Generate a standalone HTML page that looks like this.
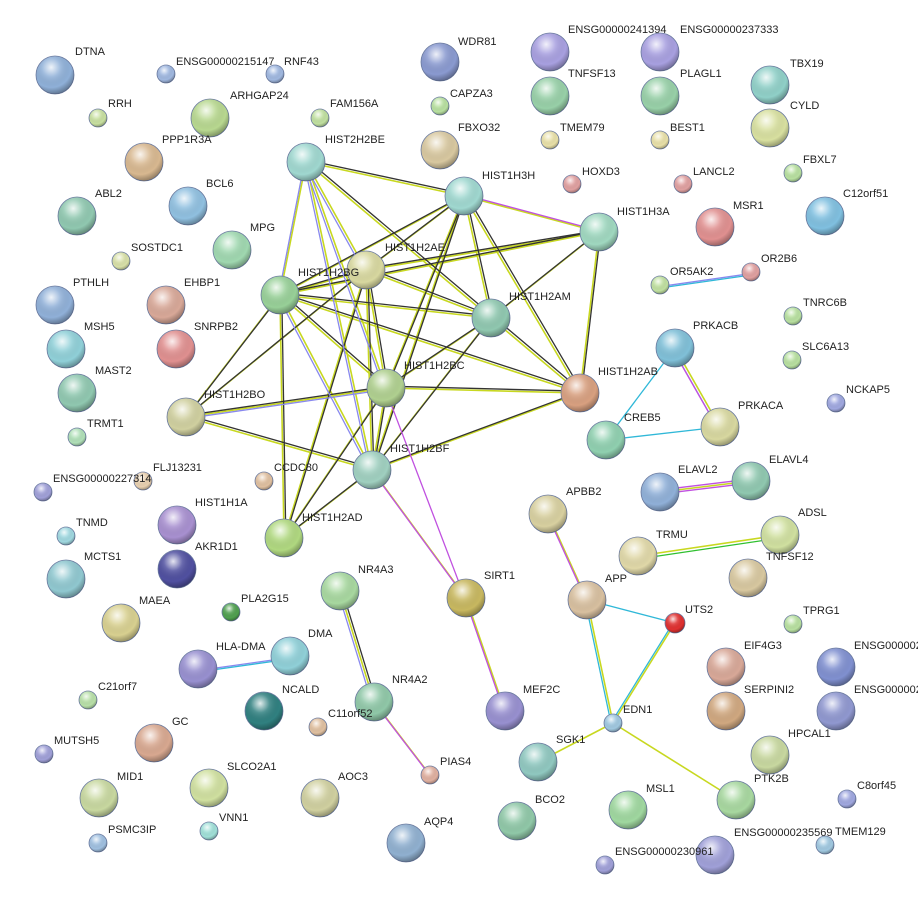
<!DOCTYPE html>
<html><head><meta charset="utf-8"><style>
html,body{margin:0;padding:0;background:#fff}
svg text{font-family:"Liberation Sans",sans-serif;font-size:11px;fill:#222}
</style></head><body>
<svg width="918" height="911" viewBox="0 0 918 911" xmlns="http://www.w3.org/2000/svg">
<defs>
<radialGradient id="g" cx="40%" cy="30%" r="70%">
<stop offset="0%" stop-color="#fff" stop-opacity="0.85"/>
<stop offset="35%" stop-color="#fff" stop-opacity="0.15"/>
<stop offset="75%" stop-color="#000" stop-opacity="0"/>
<stop offset="100%" stop-color="#000" stop-opacity="0.3"/>
</radialGradient>
</defs>
<!-- edges: yellow-green -->
<g stroke="#c8d820" stroke-width="1.6" fill="none">
<line x1="306" y1="162" x2="464" y2="196"/><line x1="306" y1="162" x2="366" y2="270"/><line x1="306" y1="162" x2="280" y2="295"/><line x1="306" y1="162" x2="491" y2="318"/><line x1="306" y1="162" x2="386" y2="388"/><line x1="306" y1="162" x2="372" y2="470"/>
<line x1="464" y1="196" x2="599" y2="232"/><line x1="464" y1="196" x2="366" y2="270"/><line x1="464" y1="196" x2="280" y2="295"/><line x1="464" y1="196" x2="491" y2="318"/><line x1="464" y1="196" x2="386" y2="388"/><line x1="464" y1="196" x2="580" y2="393"/><line x1="464" y1="196" x2="372" y2="470"/>
<line x1="599" y1="232" x2="366" y2="270"/><line x1="599" y1="232" x2="280" y2="295"/><line x1="599" y1="232" x2="491" y2="318"/><line x1="599" y1="232" x2="580" y2="393"/>
<line x1="366" y1="270" x2="280" y2="295"/><line x1="366" y1="270" x2="491" y2="318"/><line x1="366" y1="270" x2="386" y2="388"/><line x1="366" y1="270" x2="372" y2="470"/><line x1="366" y1="270" x2="186" y2="417"/><line x1="366" y1="270" x2="284" y2="538"/>
<line x1="280" y1="295" x2="491" y2="318"/><line x1="280" y1="295" x2="386" y2="388"/><line x1="280" y1="295" x2="372" y2="470"/><line x1="280" y1="295" x2="186" y2="417"/><line x1="280" y1="295" x2="284" y2="538"/><line x1="280" y1="295" x2="580" y2="393"/>
<line x1="491" y1="318" x2="386" y2="388"/><line x1="491" y1="318" x2="372" y2="470"/><line x1="491" y1="318" x2="580" y2="393"/>
<line x1="386" y1="388" x2="580" y2="393"/><line x1="386" y1="388" x2="186" y2="417"/><line x1="386" y1="388" x2="372" y2="470"/><line x1="386" y1="388" x2="284" y2="538"/>
<line x1="372" y1="470" x2="186" y2="417"/><line x1="372" y1="470" x2="580" y2="393"/><line x1="372" y1="470" x2="284" y2="538"/><line x1="372" y1="470" x2="466" y2="598"/>
<line x1="466" y1="598" x2="505" y2="711"/><line x1="340" y1="591" x2="374" y2="702"/><line x1="374" y1="702" x2="430" y2="775"/>
<line x1="548" y1="514" x2="587" y2="600"/><line x1="587" y1="600" x2="613" y2="723"/><line x1="675" y1="623" x2="613" y2="723"/>
<line x1="613" y1="723" x2="538" y2="762"/><line x1="613" y1="723" x2="736" y2="800"/>
<line x1="638" y1="556" x2="780" y2="535"/><line x1="660" y1="492" x2="751" y2="481"/><line x1="675" y1="348" x2="720" y2="427"/>
</g>
<!-- black / colored partner lines -->
<g stroke="#333" stroke-width="1.3" fill="none" transform="translate(1.8,-1.8)">
<line x1="306" y1="162" x2="464" y2="196"/><line x1="306" y1="162" x2="491" y2="318"/>
<line x1="464" y1="196" x2="366" y2="270"/><line x1="464" y1="196" x2="280" y2="295"/><line x1="464" y1="196" x2="491" y2="318"/><line x1="464" y1="196" x2="386" y2="388"/><line x1="464" y1="196" x2="580" y2="393"/><line x1="464" y1="196" x2="372" y2="470"/>
<line x1="599" y1="232" x2="366" y2="270"/><line x1="599" y1="232" x2="280" y2="295"/><line x1="599" y1="232" x2="491" y2="318"/><line x1="599" y1="232" x2="580" y2="393"/>
<line x1="366" y1="270" x2="280" y2="295"/><line x1="366" y1="270" x2="491" y2="318"/><line x1="366" y1="270" x2="386" y2="388"/><line x1="366" y1="270" x2="372" y2="470"/><line x1="366" y1="270" x2="186" y2="417"/><line x1="366" y1="270" x2="284" y2="538"/>
<line x1="280" y1="295" x2="491" y2="318"/><line x1="280" y1="295" x2="386" y2="388"/><line x1="280" y1="295" x2="186" y2="417"/><line x1="280" y1="295" x2="284" y2="538"/><line x1="280" y1="295" x2="580" y2="393"/>
<line x1="491" y1="318" x2="386" y2="388"/><line x1="491" y1="318" x2="372" y2="470"/><line x1="491" y1="318" x2="580" y2="393"/>
<line x1="386" y1="388" x2="580" y2="393"/><line x1="386" y1="388" x2="186" y2="417"/><line x1="386" y1="388" x2="372" y2="470"/><line x1="386" y1="388" x2="284" y2="538"/>
<line x1="372" y1="470" x2="186" y2="417"/><line x1="372" y1="470" x2="580" y2="393"/><line x1="372" y1="470" x2="284" y2="538"/>
<line x1="340" y1="591" x2="374" y2="702"/>
</g>
<g stroke="#8888ee" stroke-width="1.3" fill="none" transform="translate(-1.8,1.8)">
<line x1="306" y1="162" x2="366" y2="270"/><line x1="306" y1="162" x2="280" y2="295"/><line x1="306" y1="162" x2="386" y2="388"/><line x1="306" y1="162" x2="372" y2="470"/>
<line x1="280" y1="295" x2="372" y2="470"/><line x1="186" y1="417" x2="386" y2="388"/><line x1="340" y1="591" x2="374" y2="702"/>
<line x1="675" y1="348" x2="720" y2="427"/><line x1="198" y1="669" x2="290" y2="656"/><line x1="660" y1="285" x2="751" y2="272"/>
</g>
<g stroke="#c050e0" stroke-width="1.3" fill="none" transform="translate(-1.8,-1.8)">
<line x1="464" y1="196" x2="599" y2="232"/><line x1="386" y1="388" x2="466" y2="598"/><line x1="372" y1="470" x2="466" y2="598"/>
<line x1="466" y1="598" x2="505" y2="711"/><line x1="374" y1="702" x2="430" y2="775"/><line x1="548" y1="514" x2="587" y2="600"/>
<line x1="660" y1="492" x2="751" y2="481"/><line x1="660" y1="496" x2="751" y2="485"/><line x1="675" y1="352" x2="720" y2="431"/>
</g>
<g stroke="#30b8d8" stroke-width="1.3" fill="none">
<line x1="587" y1="600" x2="675" y2="623"/><line x1="585" y1="600" x2="611" y2="723"/><line x1="673" y1="623" x2="611" y2="723"/>
<line x1="675" y1="348" x2="606" y2="440"/><line x1="606" y1="440" x2="720" y2="427"/><line x1="198" y1="672" x2="290" y2="659"/><line x1="660" y1="288" x2="751" y2="275"/>
</g>
<line x1="638" y1="559" x2="780" y2="538" stroke="#30c030" stroke-width="1.3"/>
<!-- nodes -->
<g stroke-width="0.8">
<g stroke="#6a7aa0">
<circle cx="55" cy="75" r="19" fill="#8fb0d8"/><circle cx="166" cy="74" r="9" fill="#a0b8e0"/><circle cx="275" cy="74" r="9" fill="#a0b8e0"/>
<circle cx="440" cy="62" r="19" fill="#8a9ad0"/><circle cx="550" cy="52" r="19" fill="#a8a0e0"/><circle cx="660" cy="52" r="19" fill="#a8a0e0"/>
<circle cx="770" cy="85" r="19" fill="#90d0c8"/><circle cx="98" cy="118" r="9" fill="#c8e0a0"/><circle cx="210" cy="118" r="19" fill="#b8d890"/>
<circle cx="320" cy="118" r="9" fill="#c0e0a0"/><circle cx="440" cy="106" r="9" fill="#b8e0a0"/><circle cx="550" cy="96" r="19" fill="#98d0a8"/>
<circle cx="660" cy="96" r="19" fill="#98d0a8"/><circle cx="770" cy="128" r="19" fill="#d8e0a0"/><circle cx="144" cy="162" r="19" fill="#d8b890"/>
<circle cx="440" cy="150" r="19" fill="#d8c8a0"/><circle cx="550" cy="140" r="9" fill="#e8e0a8"/><circle cx="660" cy="140" r="9" fill="#e8e0a8"/>
<circle cx="306" cy="162" r="19" fill="#a0d8d0"/><circle cx="464" cy="196" r="19" fill="#a0d8d0"/><circle cx="572" cy="184" r="9" fill="#e0a0a0"/>
<circle cx="683" cy="184" r="9" fill="#e0a0a0"/><circle cx="793" cy="173" r="9" fill="#b8e0a0"/><circle cx="77" cy="216" r="19" fill="#90c8b0"/>
<circle cx="188" cy="206" r="19" fill="#90c0e0"/><circle cx="825" cy="216" r="19" fill="#80c0e0"/><circle cx="599" cy="232" r="19" fill="#a0d8c0"/>
<circle cx="715" cy="227" r="19" fill="#e09090"/><circle cx="232" cy="250" r="19" fill="#a0d8b0"/><circle cx="366" cy="270" r="19" fill="#d8d8a0"/>
<circle cx="121" cy="261" r="9" fill="#d8e0a8"/><circle cx="660" cy="285" r="9" fill="#c0e0a0"/><circle cx="751" cy="272" r="9" fill="#e0a0a0"/>
<circle cx="280" cy="295" r="19" fill="#98d098"/><circle cx="55" cy="305" r="19" fill="#90b0d8"/><circle cx="166" cy="305" r="19" fill="#d8a898"/>
<circle cx="793" cy="316" r="9" fill="#b8e0a0"/><circle cx="491" cy="318" r="19" fill="#90c8b0"/><circle cx="66" cy="349" r="19" fill="#90d0d8"/>
<circle cx="176" cy="349" r="19" fill="#e09090"/><circle cx="675" cy="348" r="19" fill="#80c0d8"/><circle cx="792" cy="360" r="9" fill="#b8e0a0"/>
<circle cx="386" cy="388" r="19" fill="#b0d090"/><circle cx="580" cy="393" r="19" fill="#d8a080"/><circle cx="77" cy="393" r="19" fill="#90c8b0"/>
<circle cx="836" cy="403" r="9" fill="#a0a8e0"/><circle cx="186" cy="417" r="19" fill="#d0d0a0"/><circle cx="720" cy="427" r="19" fill="#d8d8a0"/>
<circle cx="606" cy="440" r="19" fill="#90d0b0"/><circle cx="77" cy="437" r="9" fill="#b0e0b8"/><circle cx="372" cy="470" r="19" fill="#a0d0c0"/>
<circle cx="143" cy="481" r="9" fill="#e8d0b0"/><circle cx="264" cy="481" r="9" fill="#e0c0a0"/><circle cx="43" cy="492" r="9" fill="#a0a0d8"/>
<circle cx="660" cy="492" r="19" fill="#90b0d8"/><circle cx="751" cy="481" r="19" fill="#90c8b0"/><circle cx="548" cy="514" r="19" fill="#d8d0a0"/>
<circle cx="177" cy="525" r="19" fill="#a890d0"/><circle cx="66" cy="536" r="9" fill="#a0d8e0"/><circle cx="284" cy="538" r="19" fill="#b0d880"/>
<circle cx="780" cy="535" r="19" fill="#d0e0a0"/><circle cx="638" cy="556" r="19" fill="#e0d8a8"/><circle cx="177" cy="569" r="19" fill="#5050a0"/>
<circle cx="66" cy="579" r="19" fill="#90c8d0"/><circle cx="748" cy="578" r="19" fill="#d8c8a0"/><circle cx="340" cy="591" r="19" fill="#a8d8a0"/>
<circle cx="466" cy="598" r="19" fill="#c8b860"/><circle cx="587" cy="600" r="19" fill="#d8c0a0"/><circle cx="121" cy="623" r="19" fill="#d8d090"/>
<circle cx="231" cy="612" r="9" fill="#50a050"/><circle cx="793" cy="624" r="9" fill="#b8e0a0"/><circle cx="675" cy="623" r="10" fill="#e03030"/>
<circle cx="290" cy="656" r="19" fill="#90d0d8"/><circle cx="198" cy="669" r="19" fill="#9890d0"/><circle cx="726" cy="667" r="19" fill="#d8a898"/>
<circle cx="836" cy="667" r="19" fill="#8090d0"/><circle cx="88" cy="700" r="9" fill="#b8e0a8"/><circle cx="264" cy="711" r="19" fill="#308080"/>
<circle cx="374" cy="702" r="19" fill="#90c8a8"/><circle cx="613" cy="723" r="9" fill="#a0c8e0"/><circle cx="726" cy="711" r="19" fill="#d0a880"/>
<circle cx="836" cy="711" r="19" fill="#9098d0"/><circle cx="154" cy="743" r="19" fill="#d8a890"/><circle cx="505" cy="711" r="19" fill="#9890d0"/>
<circle cx="318" cy="727" r="9" fill="#e0c0a0"/><circle cx="44" cy="754" r="9" fill="#a0a0d8"/><circle cx="770" cy="755" r="19" fill="#c8d8a0"/>
<circle cx="430" cy="775" r="9" fill="#e0b0a0"/><circle cx="538" cy="762" r="19" fill="#90c8c0"/><circle cx="99" cy="798" r="19" fill="#c8d8a0"/>
<circle cx="209" cy="788" r="19" fill="#d0e0a0"/><circle cx="320" cy="798" r="19" fill="#d0d0a0"/><circle cx="736" cy="800" r="19" fill="#a8d8a0"/>
<circle cx="847" cy="799" r="9" fill="#a0a8e0"/><circle cx="628" cy="810" r="19" fill="#a0d8a0"/><circle cx="517" cy="821" r="19" fill="#90c8a8"/>
<circle cx="209" cy="831" r="9" fill="#a0e0d8"/><circle cx="98" cy="843" r="9" fill="#a0c0e0"/><circle cx="406" cy="843" r="19" fill="#90b0d0"/>
<circle cx="825" cy="845" r="9" fill="#a0c8e0"/><circle cx="715" cy="855" r="19" fill="#a0a0d8"/><circle cx="605" cy="865" r="9" fill="#a0a0d8"/>
</g>
<g fill="url(#g)" stroke="none">
<circle cx="55" cy="75" r="19"/><circle cx="166" cy="74" r="9"/><circle cx="275" cy="74" r="9"/><circle cx="440" cy="62" r="19"/><circle cx="550" cy="52" r="19"/><circle cx="660" cy="52" r="19"/><circle cx="770" cy="85" r="19"/><circle cx="98" cy="118" r="9"/><circle cx="210" cy="118" r="19"/><circle cx="320" cy="118" r="9"/><circle cx="440" cy="106" r="9"/><circle cx="550" cy="96" r="19"/><circle cx="660" cy="96" r="19"/><circle cx="770" cy="128" r="19"/><circle cx="144" cy="162" r="19"/><circle cx="440" cy="150" r="19"/><circle cx="550" cy="140" r="9"/><circle cx="660" cy="140" r="9"/><circle cx="306" cy="162" r="19"/><circle cx="464" cy="196" r="19"/><circle cx="572" cy="184" r="9"/><circle cx="683" cy="184" r="9"/><circle cx="793" cy="173" r="9"/><circle cx="77" cy="216" r="19"/><circle cx="188" cy="206" r="19"/><circle cx="825" cy="216" r="19"/><circle cx="599" cy="232" r="19"/><circle cx="715" cy="227" r="19"/><circle cx="232" cy="250" r="19"/><circle cx="366" cy="270" r="19"/><circle cx="121" cy="261" r="9"/><circle cx="660" cy="285" r="9"/><circle cx="751" cy="272" r="9"/><circle cx="280" cy="295" r="19"/><circle cx="55" cy="305" r="19"/><circle cx="166" cy="305" r="19"/><circle cx="793" cy="316" r="9"/><circle cx="491" cy="318" r="19"/><circle cx="66" cy="349" r="19"/><circle cx="176" cy="349" r="19"/><circle cx="675" cy="348" r="19"/><circle cx="792" cy="360" r="9"/><circle cx="386" cy="388" r="19"/><circle cx="580" cy="393" r="19"/><circle cx="77" cy="393" r="19"/><circle cx="836" cy="403" r="9"/><circle cx="186" cy="417" r="19"/><circle cx="720" cy="427" r="19"/><circle cx="606" cy="440" r="19"/><circle cx="77" cy="437" r="9"/><circle cx="372" cy="470" r="19"/><circle cx="143" cy="481" r="9"/><circle cx="264" cy="481" r="9"/><circle cx="43" cy="492" r="9"/><circle cx="660" cy="492" r="19"/><circle cx="751" cy="481" r="19"/><circle cx="548" cy="514" r="19"/><circle cx="177" cy="525" r="19"/><circle cx="66" cy="536" r="9"/><circle cx="284" cy="538" r="19"/><circle cx="780" cy="535" r="19"/><circle cx="638" cy="556" r="19"/><circle cx="177" cy="569" r="19"/><circle cx="66" cy="579" r="19"/><circle cx="748" cy="578" r="19"/><circle cx="340" cy="591" r="19"/><circle cx="466" cy="598" r="19"/><circle cx="587" cy="600" r="19"/><circle cx="121" cy="623" r="19"/><circle cx="231" cy="612" r="9"/><circle cx="793" cy="624" r="9"/><circle cx="675" cy="623" r="10"/><circle cx="290" cy="656" r="19"/><circle cx="198" cy="669" r="19"/><circle cx="726" cy="667" r="19"/><circle cx="836" cy="667" r="19"/><circle cx="88" cy="700" r="9"/><circle cx="264" cy="711" r="19"/><circle cx="374" cy="702" r="19"/><circle cx="613" cy="723" r="9"/><circle cx="726" cy="711" r="19"/><circle cx="836" cy="711" r="19"/><circle cx="154" cy="743" r="19"/><circle cx="505" cy="711" r="19"/><circle cx="318" cy="727" r="9"/><circle cx="44" cy="754" r="9"/><circle cx="770" cy="755" r="19"/><circle cx="430" cy="775" r="9"/><circle cx="538" cy="762" r="19"/><circle cx="99" cy="798" r="19"/><circle cx="209" cy="788" r="19"/><circle cx="320" cy="798" r="19"/><circle cx="736" cy="800" r="19"/><circle cx="847" cy="799" r="9"/><circle cx="628" cy="810" r="19"/><circle cx="517" cy="821" r="19"/><circle cx="209" cy="831" r="9"/><circle cx="98" cy="843" r="9"/><circle cx="406" cy="843" r="19"/><circle cx="825" cy="845" r="9"/><circle cx="715" cy="855" r="19"/><circle cx="605" cy="865" r="9"/>
</g>
</g>
<!-- labels -->
<g>
<text x="75" y="55">DTNA</text><text x="176" y="65">ENSG00000215147</text><text x="284" y="65">RNF43</text>
<text x="458" y="45">WDR81</text><text x="568" y="33">ENSG00000241394</text><text x="680" y="33">ENSG00000237333</text>
<text x="790" y="67">TBX19</text><text x="108" y="107">RRH</text><text x="230" y="99">ARHGAP24</text>
<text x="330" y="107">FAM156A</text><text x="450" y="97">CAPZA3</text><text x="568" y="77">TNFSF13</text>
<text x="680" y="77">PLAGL1</text><text x="790" y="109">CYLD</text><text x="162" y="143">PPP1R3A</text>
<text x="458" y="131">FBXO32</text><text x="560" y="131">TMEM79</text><text x="670" y="131">BEST1</text>
<text x="325" y="143">HIST2H2BE</text><text x="482" y="179">HIST1H3H</text><text x="582" y="175">HOXD3</text>
<text x="693" y="175">LANCL2</text><text x="803" y="163">FBXL7</text><text x="95" y="197">ABL2</text>
<text x="206" y="187">BCL6</text><text x="843" y="197">C12orf51</text><text x="617" y="215">HIST1H3A</text>
<text x="733" y="209">MSR1</text><text x="250" y="231">MPG</text><text x="385" y="251">HIST1H2AE</text>
<text x="131" y="251">SOSTDC1</text><text x="670" y="275">OR5AK2</text><text x="761" y="262">OR2B6</text>
<text x="298" y="276">HIST1H2BG</text><text x="73" y="286">PTHLH</text><text x="184" y="286">EHBP1</text>
<text x="803" y="306">TNRC6B</text><text x="509" y="300">HIST1H2AM</text><text x="84" y="330">MSH5</text>
<text x="194" y="330">SNRPB2</text><text x="693" y="329">PRKACB</text><text x="802" y="350">SLC6A13</text>
<text x="404" y="369">HIST1H2BC</text><text x="598" y="375">HIST1H2AB</text><text x="95" y="374">MAST2</text>
<text x="846" y="393">NCKAP5</text><text x="204" y="398">HIST1H2BO</text><text x="738" y="409">PRKACA</text>
<text x="624" y="421">CREB5</text><text x="87" y="427">TRMT1</text><text x="390" y="452">HIST1H2BF</text>
<text x="153" y="471">FLJ13231</text><text x="274" y="471">CCDC80</text><text x="53" y="482">ENSG00000227314</text>
<text x="678" y="473">ELAVL2</text><text x="769" y="463">ELAVL4</text><text x="566" y="495">APBB2</text>
<text x="195" y="506">HIST1H1A</text><text x="76" y="526">TNMD</text><text x="302" y="521">HIST1H2AD</text>
<text x="798" y="516">ADSL</text><text x="656" y="538">TRMU</text><text x="195" y="550">AKR1D1</text>
<text x="84" y="560">MCTS1</text><text x="766" y="560">TNFSF12</text><text x="358" y="573">NR4A3</text>
<text x="484" y="579">SIRT1</text><text x="605" y="582">APP</text><text x="139" y="604">MAEA</text>
<text x="241" y="602">PLA2G15</text><text x="803" y="614">TPRG1</text><text x="685" y="613">UTS2</text>
<text x="308" y="637">DMA</text><text x="216" y="650">HLA-DMA</text><text x="744" y="649">EIF4G3</text>
<text x="854" y="649">ENSG00000241</text><text x="98" y="690">C21orf7</text><text x="282" y="693">NCALD</text>
<text x="392" y="683">NR4A2</text><text x="623" y="713">EDN1</text><text x="744" y="693">SERPINI2</text>
<text x="854" y="693">ENSG00000241</text><text x="172" y="725">GC</text><text x="523" y="693">MEF2C</text>
<text x="328" y="717">C11orf52</text><text x="54" y="744">MUTSH5</text><text x="788" y="737">HPCAL1</text>
<text x="440" y="765">PIAS4</text><text x="556" y="743">SGK1</text><text x="117" y="780">MID1</text>
<text x="227" y="770">SLCO2A1</text><text x="338" y="780">AOC3</text><text x="754" y="782">PTK2B</text>
<text x="857" y="789">C8orf45</text><text x="646" y="792">MSL1</text><text x="535" y="803">BCO2</text>
<text x="219" y="821">VNN1</text><text x="108" y="833">PSMC3IP</text><text x="424" y="825">AQP4</text>
<text x="835" y="835">TMEM129</text><text x="734" y="836">ENSG00000235569</text><text x="615" y="855">ENSG00000230961</text>
</g>
</svg>
</body></html>
